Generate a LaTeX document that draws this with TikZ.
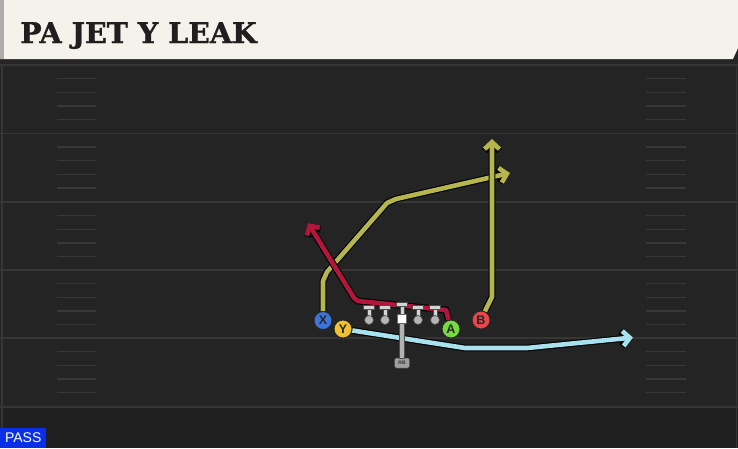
\documentclass[tikz,border=0pt]{standalone}
\usepackage{fontspec}
\setsansfont{Liberation Sans}
\newfontfamily\titlefont{DejaVu Serif Bold}[FakeBold=1.2]
\usepackage{tikz}
\usetikzlibrary{arrows.meta}

\definecolor{turf}{HTML}{242424}
\definecolor{turfdark}{HTML}{202020}
\definecolor{yardline}{HTML}{363636}
\definecolor{hashline}{HTML}{383838}
\definecolor{cream}{HTML}{F5F2EB}
\definecolor{olive}{HTML}{B6B64E}
\definecolor{crimson}{HTML}{B2163B}
\definecolor{skyblue}{HTML}{A8E2EF}
\definecolor{xblue}{HTML}{3D74D9}
\definecolor{yyellow}{HTML}{F2C12E}
\definecolor{agreen}{HTML}{78D840}
\definecolor{bred}{HTML}{E8474A}
\definecolor{passblue}{HTML}{0A2FE6}
\definecolor{lineman}{HTML}{D4D4D4}

\begin{document}
\begin{tikzpicture}[x=1pt, y=-1pt]
    \tikzstyle{player} = [circle, draw=black!85, line width=0.9pt, minimum size=18pt, inner sep=0pt, text=black!85, font=\sffamily\bfseries\fontsize{12.5}{12.5}\selectfont];
    \tikzstyle{route} = [line width=4.6pt, line join=round, preaction={draw=black, line width=6.8pt}];
    \tikzstyle{tip} = [-{Straight Barb[length=7pt, width=15pt]}];
    \tikzstyle{rbbox} = [rectangle, rounded corners=2pt, draw=black!70, line width=0.5pt, fill=gray!75, minimum width=15pt, minimum height=10pt, inner sep=0pt, font=\sffamily\bfseries\fontsize{5}{5}\selectfont, text=black!80];
    \useasboundingbox (0,0) rectangle (738,448);

    % field
    \fill[turf] (0,0) rectangle (738,448);
    \fill[turfdark] (0,408) rectangle (738,448);
    \fill[black!85] (0,59) rectangle (738,64.5);
    \foreach \y in {65,133.5,202,270,338,407}
        \draw[yardline, line width=1.8pt] (0,\y) -- (738,\y);
    \foreach \y in {65,133.5,202,270,338}
        \foreach \k in {1,2,3,4}
        {
            \draw[hashline, line width=1.4pt] (57,\y+13.6*\k) -- (96,\y+13.6*\k);
            \draw[hashline, line width=1.4pt] (646,\y+13.6*\k) -- (686,\y+13.6*\k);
        }
    \draw[yardline, line width=1.5pt] (2,64) -- (2,448);
    \draw[yardline, line width=1.5pt] (736.5,64) -- (736.5,448);

    % title bar
    \fill[cream] (0,0) -- (738,0) -- (738,48) -- (733,59) -- (0,59) -- cycle;
    \fill[gray!65] (0,0) rectangle (4,59);
    \node[anchor=base west, inner sep=0pt, text=black!88] (title) at (20,43)
        {\titlefont\fontsize{28.5}{28.5}\selectfont PA JET Y LEAK};

    % players
    \node[player, fill=xblue] (X) at (323,320.5) {X};
    \node[player, fill=yyellow] (Y) at (343,329) {Y};
    \node[player, fill=agreen] (A) at (451,329) {A};
    \node[player, fill=bred] (B) at (481,320) {B};
    \node[rectangle, fill=white, draw=black!60, line width=0.5pt, minimum size=9pt, inner sep=0pt] (C) at (402,319) {};
    \node[rbbox] (RB) at (402,363) {RB};

    % route ends
    \coordinate (Xend) at (510,173);
    \coordinate (Bend) at (492,139);
    \coordinate (Aend) at (308,223);
    \coordinate (Yend) at (633,337.5);

    % routes
    \draw[route, tip, olive] (X) -- (323,281) -- (327,272) -- (387,203) -- (396,199) -- (Xend);
    \draw[route, tip, olive] (B) -- (486,309) -- (492,297) -- (Bend);
    \draw[route, tip, crimson] (A) -- (446,310) -- (358,301) -- (354,298) -- (Aend);
    \draw[route, tip, skyblue] (Y) -- (465,348) -- (527,348) -- (Yend);

    % line
    \foreach \x in {369,385,418,435}
    {
        \draw[black!70, line width=0.6pt, fill=lineman] (\x-2,308) rectangle (\x+2,319);
        \draw[black!70, line width=0.6pt, fill=lineman] (\x-5.5,305.5) rectangle (\x+5.5,309.5);
        \draw[black!70, line width=0.6pt, fill=lineman!85!black] (\x,320) circle (4.5pt);
    }
    \draw[black!70, line width=0.6pt, fill=lineman] (400,305) rectangle (404,315);
    \draw[black!70, line width=0.6pt, fill=lineman] (396.5,302.5) rectangle (407.5,306.5);
    \draw[black!70, line width=0.6pt, fill=gray!60] (399.5,323) rectangle (404.5,358);
    \node[rectangle, fill=white, draw=black!60, line width=0.5pt, minimum size=9pt, inner sep=0pt] at (C) {};

    % play type
    \node[rectangle, fill=passblue, anchor=south west, minimum width=46pt, minimum height=20pt, inner sep=0pt, text=white, font=\sffamily\fontsize{14}{14}\selectfont] (pass) at (0,448) {PASS};
\end{tikzpicture}
\end{document}
